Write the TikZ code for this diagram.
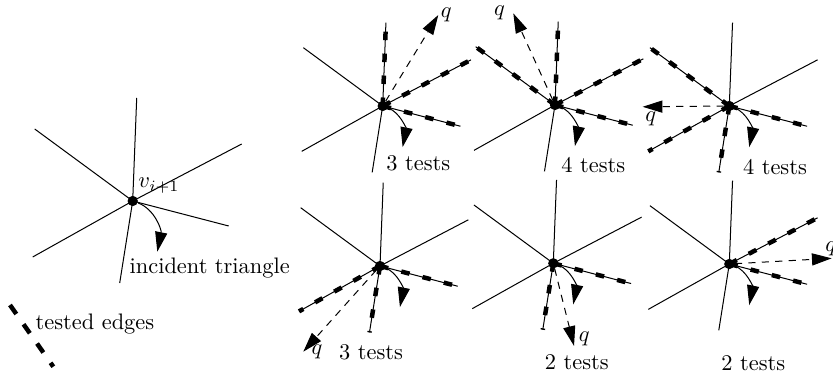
\documentclass[tikz,border=0pt]{standalone}
\usetikzlibrary{arrows.meta}

\begin{document}
\begin{tikzpicture}[
    x=0.446pt, y=-0.446pt,
    edge/.style={line width=0.45pt},
    tested/.style={edge, postaction={draw, line width=2pt, dash pattern=on 3.8pt off 6pt}},
    vertex/.style={circle, fill, inner sep=0pt, minimum size=4.6pt},
    arrow/.style={-{Triangle[length=8.8pt, width=5.4pt]}, line width=0.45pt},
    query/.style={arrow, dash pattern=on 3.2pt off 2.8pt},
    legendline/.style={line width=2pt, dash pattern=on 4.9pt off 5.6pt},
    lbl/.style={inner sep=1pt}
]
\useasboundingbox (0,0) rectangle (833,372);

% the vertex and its incident triangle
\begin{scope}[shift={(132.7,201)}, name prefix=big-]
\node[vertex] (v) at (0,0) {};
\foreach \dx/\dy in {4/-103, -98/-72, 109/-57, 96/25, -100/56, -13/82}
    \draw[edge] (v.center) -- (\dx,\dy);
\coordinate (tri) at (24.6,50.7);
\draw[arrow] (v) .. controls (22,8) and (29,29) .. (tri);
\node[lbl, anchor=base west] (vname) at (3,-13) {$v_{i+1}$};
\node[lbl] (inc) at (77,67) {incident triangle};
\end{scope}

% top row
\begin{scope}[shift={(382.7,106)}, scale=0.81, name prefix=t1-]
\node[vertex] (v) at (0,0) {};
\foreach \dx/\dy/\s in {4/-103/tested, -98/-72/edge, 109/-57/tested, 96/25/tested, -100/56/edge, -13/82/edge}
    \draw[\s] (v.center) -- (\dx,\dy);
\coordinate (tri) at (24.6,50.7);
\draw[arrow] (v) .. controls (22,8) and (29,29) .. (tri);
\coordinate (q) at (68.6,-112.3);
\draw[query] (v) -- (q);
\node[lbl, anchor=west] (qname) at (q) {$q$};
\node[lbl] (tests) at (44,70.4) {3 tests};
\end{scope}

\begin{scope}[shift={(555,105)}, scale=0.81, name prefix=t2-]
\node[vertex] (v) at (0,0) {};
\foreach \dx/\dy/\s in {4/-103/tested, -98/-72/tested, 109/-57/tested, 96/25/tested, -100/56/edge, -13/82/edge}
    \draw[\s] (v.center) -- (\dx,\dy);
\coordinate (tri) at (24.6,50.7);
\draw[arrow] (v) .. controls (22,8) and (29,29) .. (tri);
\coordinate (q) at (-51.5,-113.2);
\draw[query] (v) -- (q);
\node[lbl, anchor=east, xshift=-2.5pt] (qname) at (q) {$q$};
\node[lbl] (tests) at (47.3,74) {4 tests};
\end{scope}

\begin{scope}[shift={(729.3,106)}, scale=0.81, name prefix=t3-]
\node[vertex] (v) at (0,0) {};
\foreach \dx/\dy/\s in {4/-103/edge, -98/-72/tested, 109/-57/edge, 96/25/tested, -100/56/tested, -13/82/tested}
    \draw[\s] (v.center) -- (\dx,\dy);
\coordinate (tri) at (24.6,50.7);
\draw[arrow] (v) .. controls (22,8) and (29,29) .. (tri);
\coordinate (q) at (-107,1);
\draw[query] (v) -- (q);
\node[lbl, anchor=north west, yshift=-1pt] (qname) at (q) {$q$};
\node[lbl] (tests) at (56.4,75) {4 tests};
\end{scope}

% bottom row
\begin{scope}[shift={(380,266)}, scale=0.81, name prefix=b1-]
\node[vertex] (v) at (0,0) {};
\foreach \dx/\dy/\s in {4/-103/edge, -98/-72/edge, 109/-57/edge, 96/25/tested, -100/56/tested, -13/82/tested}
    \draw[\s] (v.center) -- (\dx,\dy);
\coordinate (tri) at (24.6,50.7);
\draw[arrow] (v) .. controls (22,8) and (29,29) .. (tri);
\coordinate (q) at (-94.7,105.8);
\draw[query] (v) -- (q);
\node[lbl, anchor=west, xshift=2.5pt] (qname) at (q) {$q$};
\node[lbl] (tests) at (-11,106) {3 tests};
\end{scope}

\begin{scope}[shift={(553.3,263.3)}, scale=0.81, name prefix=b2-]
\node[vertex] (v) at (0,0) {};
\foreach \dx/\dy/\s in {4/-103/edge, -98/-72/edge, 109/-57/edge, 96/25/tested, -100/56/edge, -13/82/tested}
    \draw[\s] (v.center) -- (\dx,\dy);
\coordinate (tri) at (24.6,50.7);
\draw[arrow] (v) .. controls (22,8) and (29,29) .. (tri);
\coordinate (q) at (25.6,102);
\draw[query] (v) -- (q);
\node[lbl, anchor=west, xshift=1pt, yshift=3pt] (qname) at (q) {$q$};
\node[lbl] (tests) at (29,121.5) {2 tests};
\end{scope}

\begin{scope}[shift={(729.3,264)}, scale=0.81, name prefix=b3-]
\node[vertex] (v) at (0,0) {};
\foreach \dx/\dy/\s in {4/-103/edge, -98/-72/edge, 109/-57/tested, 96/25/tested, -100/56/edge, -13/82/edge}
    \draw[\s] (v.center) -- (\dx,\dy);
\coordinate (tri) at (24.6,50.7);
\draw[arrow] (v) .. controls (22,8) and (29,29) .. (tri);
\coordinate (q) at (126.4,-7);
\draw[query] (v) -- (q);
\node[lbl, anchor=south west, xshift=-4pt] (qname) at (q) {$q$};
\node[lbl] (tests) at (29.6,121.9) {2 tests};
\end{scope}

% legend
\coordinate (lg-a) at (10,305);
\coordinate (lg-b) at (53.3,366.7);
\draw[legendline] (lg-a) -- (lg-b);
\node[lbl, anchor=base west] (lg-text) at (33,330) {tested edges};

\end{tikzpicture}
\end{document}
